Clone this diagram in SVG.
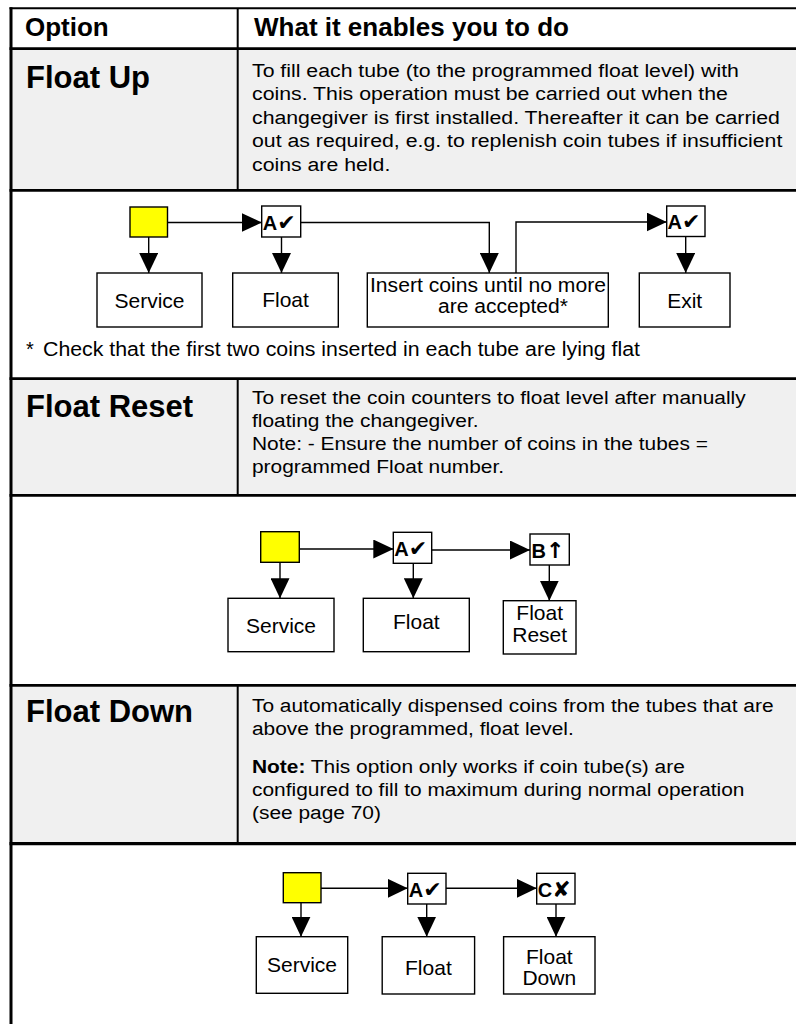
<svg xmlns="http://www.w3.org/2000/svg" width="796" height="1024" viewBox="0 0 796 1024">
<defs>
  <marker id="ah" markerWidth="20" markerHeight="19" refX="20" refY="9.5" orient="auto" markerUnits="userSpaceOnUse">
    <path d="M0,0 L20,9.5 L0,19 z" fill="#000"/>
  </marker>
  <style>
    text{font-family:"Liberation Sans",Arial,Helvetica,sans-serif;fill:#000}
    .hd{font-size:26px;font-weight:bold}
    .ttl{font-size:31px;font-weight:bold}
    .ds{font-size:19px}
    .b{font-weight:bold}
    .fn{font-size:20px}
    .lbl{font-size:21px;text-anchor:middle}
    .lbl2{font-size:19.5px;text-anchor:middle}
    .kb{font-size:20px;font-weight:bold}
    .sym{font-family:"DejaVu Sans","Liberation Sans",sans-serif;font-size:22px;font-weight:bold}
    .box{fill:#fff;stroke:#000;stroke-width:1.4}
    .key{fill:#fff;stroke:#000;stroke-width:1.4}
    .svc{fill:#ffff00;stroke:#000;stroke-width:1.4}
    .cn{fill:none;stroke:#000;stroke-width:1.4;marker-end:url(#ah)}
    .rule{stroke:#000;stroke-width:2.7}
    .dv{stroke:#000;stroke-width:2}
    .shade{fill:#f0f0f0}
  </style>
</defs>

<!-- table frame, shading and rules -->
<g id="table">
  <rect x="0" y="0" width="796" height="1024" fill="#fff"/>
  <rect class="shade" x="12" y="50" width="784" height="139"/>
  <rect class="shade" x="12" y="380" width="784" height="114"/>
  <rect class="shade" x="12" y="687" width="784" height="155"/>
  <line class="dv" x1="9.5" y1="8.3" x2="796" y2="8.3"/>
  <line class="rule" x1="9.5" y1="48.6" x2="796" y2="48.6"/>
  <line class="rule" x1="9.5" y1="190.3" x2="796" y2="190.3"/>
  <line class="rule" x1="9.5" y1="378.7" x2="796" y2="378.7"/>
  <line class="rule" x1="9.5" y1="495.3" x2="796" y2="495.3"/>
  <line class="rule" x1="9.5" y1="685.3" x2="796" y2="685.3"/>
  <line class="rule" x1="9.5" y1="843.7" x2="796" y2="843.7" style="stroke-width:3.2"/>
  <line x1="11" y1="7.3" x2="11" y2="1024" stroke="#000" stroke-width="3"/>
  <line class="dv" x1="237.7" y1="9" x2="237.7" y2="190"/>
  <line class="dv" x1="237.7" y1="379" x2="237.7" y2="495"/>
  <line class="dv" x1="237.7" y1="685" x2="237.7" y2="843"/>
</g>

<!-- header row -->
<g id="header">
  <text class="hd" x="25" y="36">Option</text>
  <text class="hd" x="254" y="36">What it enables you to do</text>
</g>

<!-- Float Up row -->
<g id="float-up">
  <text class="ttl" x="26" y="88">Float Up</text>
  <g transform="translate(252,0) scale(1.12,1)">
    <text class="ds" x="0" y="77">To fill each tube (to the programmed float level) with</text>
    <text class="ds" x="0" y="100.5">coins. This operation must be carried out when the</text>
    <text class="ds" x="0" y="124">changegiver is first installed. Thereafter it can be carried</text>
    <text class="ds" x="0" y="147.5">out as required, e.g. to replenish coin tubes if insufficient</text>
    <text class="ds" x="0" y="171">coins are held.</text>
  </g>
</g>

<!-- Float Up sequence -->
<g id="fu-service-key"><rect class="svc" x="130" y="207" width="37.5" height="30"/></g>
<g id="fu-service"><rect class="box" x="97" y="273" width="105" height="54"/><text class="lbl" x="149.5" y="307.5">Service</text></g>
<g id="fu-a1"><rect class="key" x="261.7" y="206" width="39" height="31"/><text x="262.7" y="229.5"><tspan class="kb">A</tspan><tspan class="sym">✔</tspan></text></g>
<g id="fu-float"><rect class="box" x="232.7" y="273" width="105.6" height="54"/><text class="lbl" x="285.5" y="307">Float</text></g>
<g id="fu-insert"><rect class="box" x="367.3" y="273" width="241" height="54"/><text class="lbl2" x="488" y="291.5" textLength="236" lengthAdjust="spacingAndGlyphs">Insert coins until no more</text><text class="lbl2" x="503" y="313" textLength="130" lengthAdjust="spacingAndGlyphs">are accepted*</text></g>
<g id="fu-a2"><rect class="key" x="666.7" y="206" width="38.3" height="30.5"/><text x="667.5" y="229.3"><tspan class="kb">A</tspan><tspan class="sym">✔</tspan></text></g>
<g id="fu-exit"><rect class="box" x="639.3" y="273" width="90.7" height="54"/><text class="lbl" x="684.7" y="307.5">Exit</text></g>

<g id="fu-note">
  <text class="fn" x="26" y="356">*</text>
  <text class="fn" x="43" y="356" textLength="597" lengthAdjust="spacingAndGlyphs">Check that the first two coins inserted in each tube are lying flat</text>
</g>

<!-- Float Reset row -->
<g id="float-reset">
  <text class="ttl" x="26" y="417">Float Reset</text>
  <g transform="translate(252,0) scale(1.1,1)">
    <text class="ds" x="0" y="404">To reset the coin counters to float level after manually</text>
    <text class="ds" x="0" y="427">floating the changegiver.</text>
    <text class="ds" x="0" y="450">Note: - Ensure the number of coins in the tubes =</text>
    <text class="ds" x="0" y="473">programmed Float number.</text>
  </g>
</g>

<!-- Float Reset sequence -->
<g id="fr-service-key"><rect class="svc" x="260.7" y="531.7" width="38.6" height="30.6"/></g>
<g id="fr-a"><rect class="key" x="393.3" y="532.3" width="38.4" height="31"/><text x="394.3" y="555.8"><tspan class="kb">A</tspan><tspan class="sym">✔</tspan></text></g>
<g id="fr-b"><rect class="key" x="530" y="534" width="39.3" height="31"/><text x="531.5" y="557.5"><tspan class="kb">B</tspan><tspan class="sym">↑</tspan></text></g>
<g id="fr-service"><rect class="box" x="228" y="598.3" width="106" height="53.4"/><text class="lbl" x="281" y="632.5">Service</text></g>
<g id="fr-float"><rect class="box" x="363.3" y="598.3" width="106" height="53.4"/><text class="lbl" x="416.3" y="629">Float</text></g>
<g id="fr-reset"><rect class="box" x="503.3" y="600.7" width="72.7" height="53.3"/><text class="lbl" x="539.7" y="620">Float</text><text class="lbl" x="539.7" y="642">Reset</text></g>

<!-- Float Down row -->
<g id="float-down">
  <text class="ttl" x="26" y="722">Float Down</text>
  <g transform="translate(252,0) scale(1.1,1)">
    <text class="ds" x="0" y="712">To automatically dispensed coins from the tubes that are</text>
    <text class="ds" x="0" y="735">above the programmed, float level.</text>
    <text class="ds" x="0" y="773"><tspan class="b">Note:</tspan> This option only works if coin tube(s) are</text>
    <text class="ds" x="0" y="796">configured to fill to maximum during normal operation</text>
    <text class="ds" x="0" y="819">(see page 70)</text>
  </g>
</g>

<!-- Float Down sequence -->
<g id="fd-service-key"><rect class="svc" x="283.3" y="872.7" width="37.7" height="30"/></g>
<g id="fd-a"><rect class="key" x="407.7" y="873.3" width="38.3" height="30.7"/><text x="408.7" y="896.5"><tspan class="kb">A</tspan><tspan class="sym">✔</tspan></text></g>
<g id="fd-c"><rect class="key" x="536.7" y="873.3" width="38.3" height="30.7"/><text x="537.7" y="896.5"><tspan class="kb">C</tspan><tspan class="sym">✘</tspan></text></g>
<g id="fd-service"><rect class="box" x="256.3" y="936.7" width="91.4" height="56.6"/><text class="lbl" x="302" y="971.5">Service</text></g>
<g id="fd-float"><rect class="box" x="382.2" y="936.7" width="92.4" height="57.3"/><text class="lbl" x="428.4" y="975">Float</text></g>
<g id="fd-down"><rect class="box" x="503.6" y="936.7" width="91.4" height="57.3"/><text class="lbl" x="549.3" y="964">Float</text><text class="lbl" x="549.3" y="985">Down</text></g>

<!-- connectors -->
<g id="connectors">
  <path class="cn" d="M148.7,237 V273"/>
  <path class="cn" d="M167.5,222.5 H261.7"/>
  <path class="cn" d="M281.5,237 V273"/>
  <path class="cn" d="M300.7,222.5 H489.3 V273"/>
  <path class="cn" d="M516,273 V222 H666.7"/>
  <path class="cn" d="M685.7,236.5 V273"/>

  <path class="cn" d="M280,562.3 V598.3"/>
  <path class="cn" d="M299.3,549 H393.3"/>
  <path class="cn" d="M413.3,563.3 V598.3"/>
  <path class="cn" d="M431.7,550 H530"/>
  <path class="cn" d="M549.3,565 V600.7"/>

  <path class="cn" d="M301,902.7 V936.7"/>
  <path class="cn" d="M321,888.3 H407.7"/>
  <path class="cn" d="M426.7,904 V936.7"/>
  <path class="cn" d="M446,888.3 H536.7"/>
  <path class="cn" d="M556,904 V936.7"/>
</g>
</svg>
